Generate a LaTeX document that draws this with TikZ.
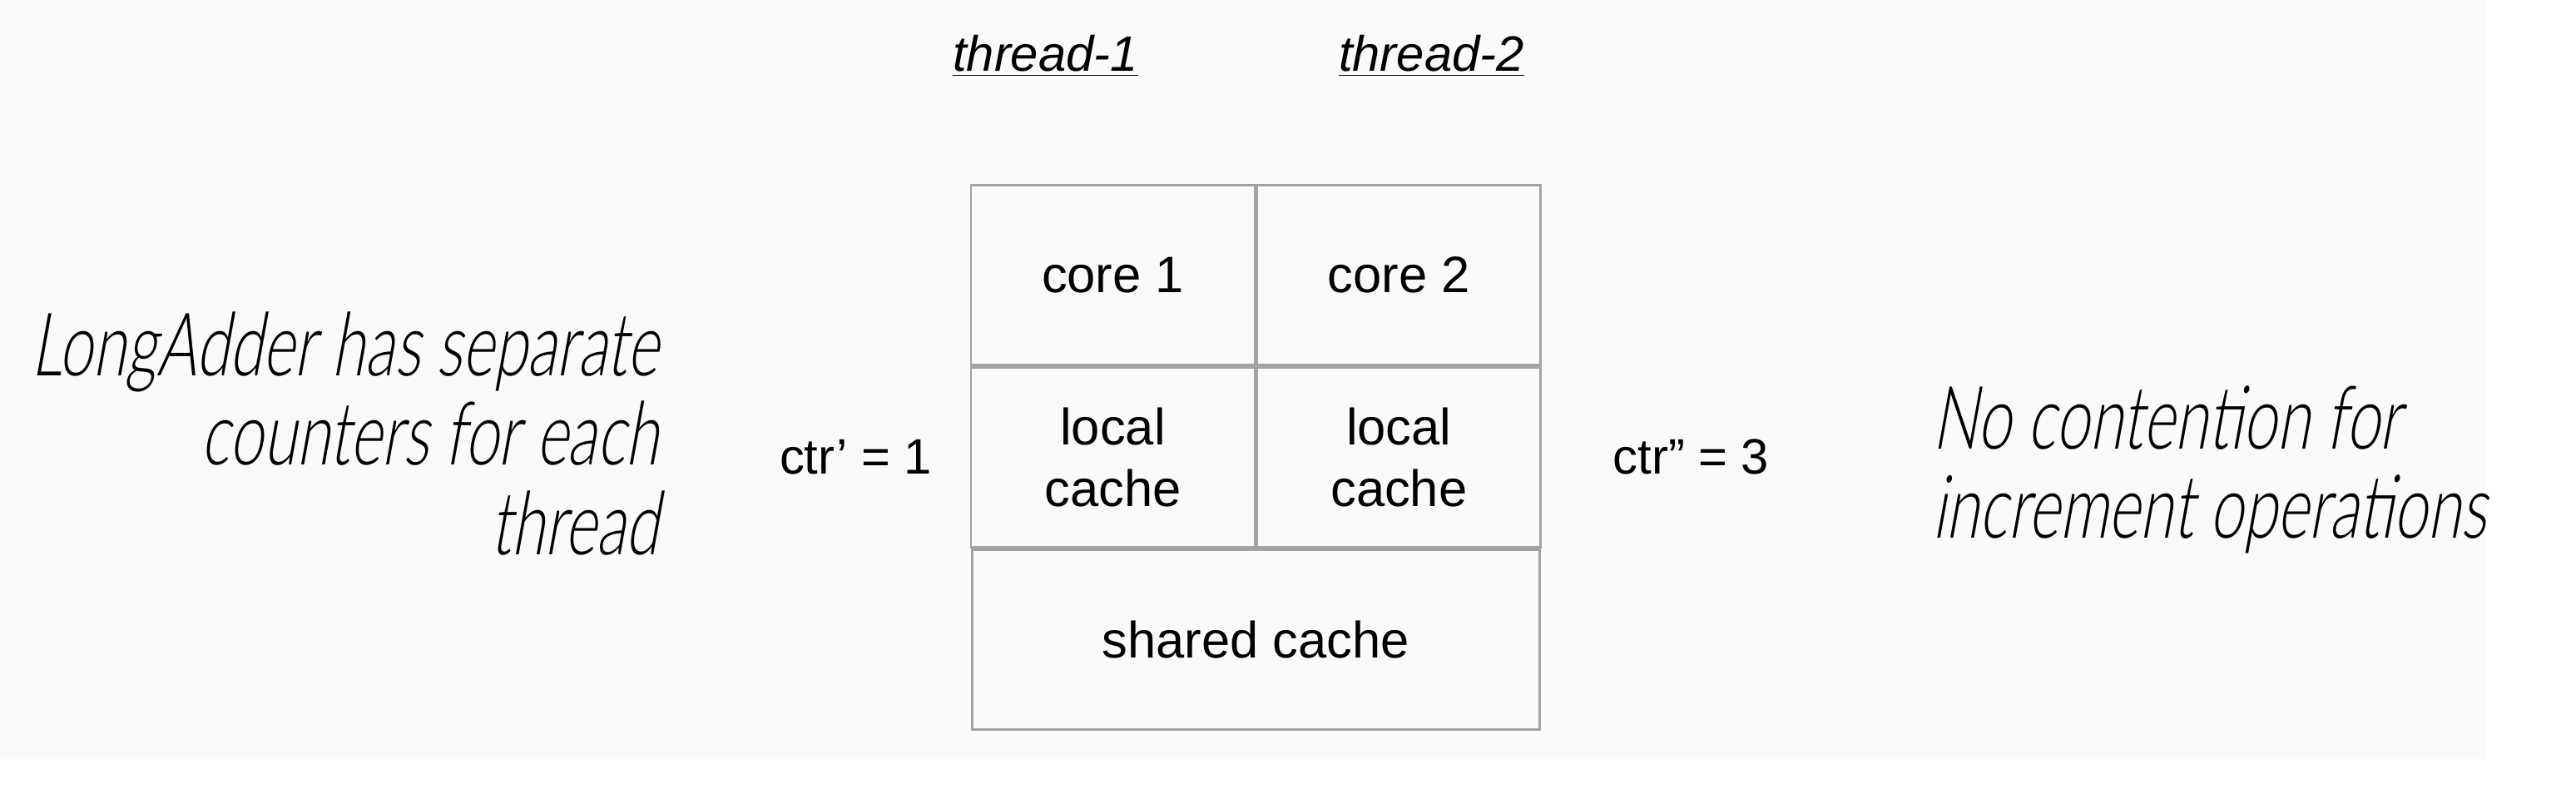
\documentclass[tikz,border=0pt]{standalone}
\usepackage{fontspec}
\setmainfont{Liberation Sans}
\newfontfamily\handfont{Lato Light}[FakeSlant=0.18,FakeStretch=0.69]
\usetikzlibrary{positioning}
\definecolor{cellgray}{HTML}{A3A3A3}
\definecolor{bggray}{HTML}{FAFAFA}

\begin{document}
\begin{tikzpicture}[
  cell/.style={draw=cellgray, line width=0.8pt, rectangle, inner sep=0pt,
    minimum width=3.41cm, minimum height=2.16cm, align=center,
    font=\fontsize{17.5}{21}\selectfont},
  wide/.style={cell, minimum width=6.82cm},
  thread/.style={font=\fontsize{17}{20}\selectfont\itshape},
  ctr/.style={font=\fontsize{17}{20}\selectfont},
  hand/.style={font=\handfont\fontsize{30}{30.5}\selectfont, inner sep=0pt}
]
\useasboundingbox (0,0) rectangle (30.96,9.54);
\fill[bggray] (0,0.42) rectangle (29.87,9.54);
% the cache grid
\node[cell] (core1) at (13.375,6.235) {core 1};
\node[cell, right=0pt of core1] (core2) {core 2};
\node[cell, below=0pt of core1] (local1) {local\\cache};
\node[cell, below=0pt of core2] (local2) {local\\cache};
\node[wide, below=0pt of local1.south east] (shared) {shared cache};
% thread names
\node[thread, above=1.16cm of core1, xshift=-0.81cm] (thread1) {\underline{thread-1}};
\node[thread, above=1.16cm of core2, xshift=0.39cm] (thread2) {\underline{thread-2}};
% counters
\node[ctr, left=0.33cm of local1] (ctr1) {ctr’ = 1};
\node[ctr, right=0.73cm of local2] (ctr2) {ctr” = 3};
% notes
\node[hand, align=right, anchor=east] (leftnote) at (7.92,4.33)
  {LongAdder has separate\\counters for each\\thread};
\node[hand, align=left, anchor=west] (rightnote) at (23.22,3.90)
  {No contention for\\increment operations};
\end{tikzpicture}
\end{document}
